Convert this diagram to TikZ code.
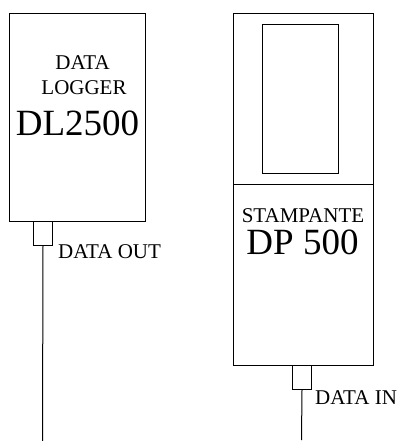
\documentclass[tikz,border=0pt]{standalone}
\usepackage{fontspec}
\setmainfont{Liberation Serif}
\newfontfamily\myserif{Liberation Serif}
\begin{document}
\begin{tikzpicture}[x=1pt,y=-1pt,
  box/.style={draw,line width=1pt,inner sep=0pt,anchor=north west},
  small/.style={inner sep=0pt,text height=14pt,text depth=0pt,font=\myserif\fontsize{21}{21}\selectfont},
  big/.style={inner sep=0pt,text height=25pt,text depth=0pt,font=\myserif\fontsize{37}{37}\selectfont},
  wire/.style={line width=1pt}]
\useasboundingbox (0,0) rectangle (403,441);
% data logger
\node[box,minimum width=136,minimum height=208] (dl) at (9,13) {};
\node[small,anchor=base] (t1) at (82.5,70) {DATA};
\node[small,anchor=base] (t2) at (84,95) {LOGGER};
\node[big,anchor=base] (t3) at (77.5,135) {DL2500};
\node[box,minimum width=19,minimum height=24] (dlport) at (33,221) {};
\coordinate (dlend) at (42.5,441);
\draw[wire] (dlport.south) -- (dlend);
\node[small,anchor=base west] (dlout) at (58,258) {DATA OUT};
% printer
\node[box,minimum width=140,minimum height=171] (prtop) at (233,13) {};
\node[box,minimum width=76,minimum height=149] (screen) at (262,24) {};
\node[box,minimum width=140,minimum height=181] (prbot) at (233,184) {};
\node[small,anchor=base] (t4) at (303,222) {STAMPANTE};
\node[big,anchor=base] (t5) at (302.5,254) {DP 500};
\node[box,minimum width=19,minimum height=24] (prport) at (292,365) {};
\coordinate (prend) at (301.5,440);
\draw[wire] (prport.south) -- (prend);
\node[small,anchor=base west] (prin) at (315,404) {DATA IN};
\end{tikzpicture}
\end{document}
